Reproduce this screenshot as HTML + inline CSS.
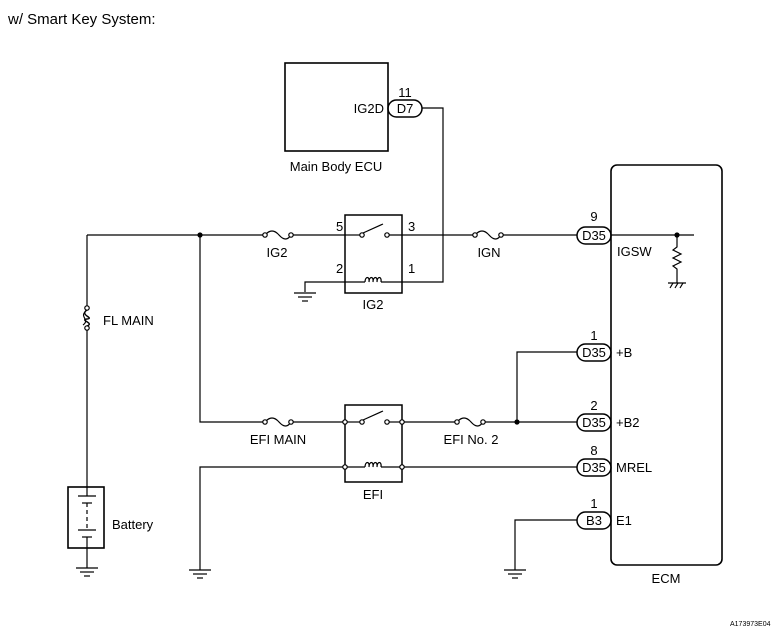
<!DOCTYPE html>
<html><head><meta charset="utf-8"><style>
body{margin:0;background:#fff}
svg{display:block}
text{font-family:"Liberation Sans",Arial,sans-serif;font-size:13px;fill:#000}
</style></head><body>
<svg width="784" height="639" viewBox="0 0 784 639" xmlns="http://www.w3.org/2000/svg">
<g fill="none" stroke="#000" stroke-width="1.2">
<rect x="285" y="63" width="103" height="88" stroke-width="1.6"/>
<rect x="388" y="100" width="34" height="17" rx="8.5" stroke-width="1.5"/>
<polyline points="422,108 443,108 443,282 402,282"/>
<line x1="87" y1="235" x2="263" y2="235"/>
<line x1="293" y1="235" x2="345" y2="235"/>
<path d="M265,235 q7,-8 14,0 t12,0"/>
<circle cx="265" cy="235" r="2.2" fill="#fff"/><circle cx="291" cy="235" r="2.2" fill="#fff"/>
<rect x="345" y="215" width="57" height="78" stroke-width="1.5"/>
<line x1="345" y1="235" x2="360" y2="235"/>
<line x1="363" y1="233" x2="383" y2="224"/>
<circle cx="362" cy="235" r="2.2" fill="#fff"/><circle cx="387" cy="235" r="2.2" fill="#fff"/>
<line x1="389" y1="235" x2="473" y2="235"/>
<path d="M475,235 q7,-8 14,0 t12,0"/>
<circle cx="475" cy="235" r="2.2" fill="#fff"/><circle cx="501" cy="235" r="2.2" fill="#fff"/>
<line x1="503" y1="235" x2="577" y2="235"/>
<rect x="577" y="227" width="34" height="17" rx="8.5" stroke-width="1.5"/>
<rect x="611" y="165" width="111" height="400" rx="6" stroke-width="1.6"/>
<line x1="611" y1="235" x2="694" y2="235"/>
<polyline points="677,235 677,247 673,250 681,254 673,258 681,262 673,266 677,269 677,283"/>
<line x1="668" y1="283" x2="686" y2="283"/>
<line x1="670" y1="288" x2="673" y2="283"/><line x1="675" y1="288" x2="678" y2="283"/><line x1="680" y1="288" x2="683" y2="283"/>
<polyline points="305,292 305,282 365,282"/>
<path d="M365,282 c0,-6 5,-6 4,0 c0,-6 5,-6 4,0 c0,-6 5,-6 4,0 c0,-6 5,-6 4,0"/>
<line x1="381" y1="282" x2="402" y2="282"/>
<line x1="294" y1="293" x2="316" y2="293"/><line x1="298" y1="297" x2="312" y2="297"/><line x1="302" y1="301" x2="308" y2="301"/>
<line x1="87" y1="235" x2="87" y2="306"/>
<line x1="87" y1="330" x2="87" y2="496"/>
<circle cx="87" cy="308" r="2.2" fill="#fff"/><circle cx="87" cy="328" r="2.2" fill="#fff"/>
<path d="M87,310 c-8,5 8,8 0,9 c-8,1 8,4 0,7" stroke-width="1.4"/>
<path d="M85,312 c-5,5 5,8 -2,13"/>
<rect x="68" y="487" width="36" height="61" stroke-width="1.6"/>
<line x1="78" y1="496" x2="96" y2="496"/><line x1="82" y1="503" x2="92" y2="503"/>
<line x1="87" y1="503" x2="87" y2="530" stroke-dasharray="4,3"/>
<line x1="78" y1="530" x2="96" y2="530"/><line x1="82" y1="537" x2="92" y2="537"/>
<line x1="87" y1="537" x2="87" y2="568"/>
<line x1="76" y1="568" x2="98" y2="568"/><line x1="80" y1="572" x2="94" y2="572"/><line x1="84" y1="576" x2="90" y2="576"/>
<polyline points="200,235 200,422 263,422"/>
<path d="M265,422 q7,-8 14,0 t12,0"/>
<circle cx="265" cy="422" r="2.2" fill="#fff"/><circle cx="291" cy="422" r="2.2" fill="#fff"/>
<line x1="293" y1="422" x2="345" y2="422"/>
<rect x="345" y="405" width="57" height="77" stroke-width="1.5"/>
<line x1="345" y1="422" x2="360" y2="422"/>
<line x1="363" y1="420" x2="383" y2="411"/>
<circle cx="362" cy="422" r="2.2" fill="#fff"/><circle cx="387" cy="422" r="2.2" fill="#fff"/>
<circle cx="345" cy="422" r="2.2" fill="#fff"/><circle cx="402" cy="422" r="2.2" fill="#fff"/>
<line x1="389" y1="422" x2="400" y2="422"/>
<line x1="404" y1="422" x2="455" y2="422"/>
<path d="M457,422 q7,-8 14,0 t12,0"/>
<circle cx="457" cy="422" r="2.2" fill="#fff"/><circle cx="483" cy="422" r="2.2" fill="#fff"/>
<line x1="485" y1="422" x2="577" y2="422"/>
<polyline points="517,422 517,352 577,352"/>
<rect x="577" y="344" width="34" height="17" rx="8.5" stroke-width="1.5"/>
<rect x="577" y="414" width="34" height="17" rx="8.5" stroke-width="1.5"/>
<polyline points="200,570 200,467 343,467"/>
<circle cx="345" cy="467" r="2.2" fill="#fff"/><circle cx="402" cy="467" r="2.2" fill="#fff"/>
<line x1="347" y1="467" x2="365" y2="467"/>
<path d="M365,467 c0,-6 5,-6 4,0 c0,-6 5,-6 4,0 c0,-6 5,-6 4,0 c0,-6 5,-6 4,0"/>
<line x1="381" y1="467" x2="400" y2="467"/>
<line x1="404" y1="467" x2="577" y2="467"/>
<rect x="577" y="459" width="34" height="17" rx="8.5" stroke-width="1.5"/>
<line x1="189" y1="570" x2="211" y2="570"/><line x1="193" y1="574" x2="207" y2="574"/><line x1="197" y1="578" x2="203" y2="578"/>
<polyline points="515,570 515,520 577,520"/>
<rect x="577" y="512" width="34" height="17" rx="8.5" stroke-width="1.5"/>
<line x1="504" y1="570" x2="526" y2="570"/><line x1="508" y1="574" x2="522" y2="574"/><line x1="512" y1="578" x2="518" y2="578"/>
</g>
<g fill="#000">
<circle cx="200" cy="235" r="2.6"/><circle cx="677" cy="235" r="2.6"/><circle cx="517" cy="422" r="2.6"/>
</g>
<text x="8" y="24" style="font-size:15px">w/ Smart Key System:</text>
<text x="384" y="113" text-anchor="end">IG2D</text>
<text x="405" y="97" text-anchor="middle">11</text>
<text x="405" y="113" text-anchor="middle">D7</text>
<text x="336" y="171" text-anchor="middle">Main Body ECU</text>
<text x="277" y="257" text-anchor="middle">IG2</text>
<text x="336" y="231">5</text><text x="408" y="231">3</text>
<text x="336" y="273">2</text><text x="408" y="273">1</text>
<text x="373" y="309" text-anchor="middle">IG2</text>
<text x="489" y="257" text-anchor="middle">IGN</text>
<text x="594" y="221" text-anchor="middle">9</text>
<text x="594" y="240" text-anchor="middle">D35</text>
<text x="617" y="256">IGSW</text>
<text x="103" y="325">FL MAIN</text>
<text x="112" y="529">Battery</text>
<text x="278" y="444" text-anchor="middle">EFI MAIN</text>
<text x="471" y="444" text-anchor="middle">EFI No. 2</text>
<text x="373" y="499" text-anchor="middle">EFI</text>
<text x="594" y="340" text-anchor="middle">1</text>
<text x="594" y="357" text-anchor="middle">D35</text>
<text x="616" y="357">+B</text>
<text x="594" y="410" text-anchor="middle">2</text>
<text x="594" y="427" text-anchor="middle">D35</text>
<text x="616" y="427">+B2</text>
<text x="594" y="455" text-anchor="middle">8</text>
<text x="594" y="472" text-anchor="middle">D35</text>
<text x="616" y="472">MREL</text>
<text x="594" y="508" text-anchor="middle">1</text>
<text x="594" y="525" text-anchor="middle">B3</text>
<text x="616" y="525">E1</text>
<text x="666" y="583" text-anchor="middle">ECM</text>
<text x="730" y="626" style="font-size:7px">A173973E04</text>
</svg>
</body></html>
